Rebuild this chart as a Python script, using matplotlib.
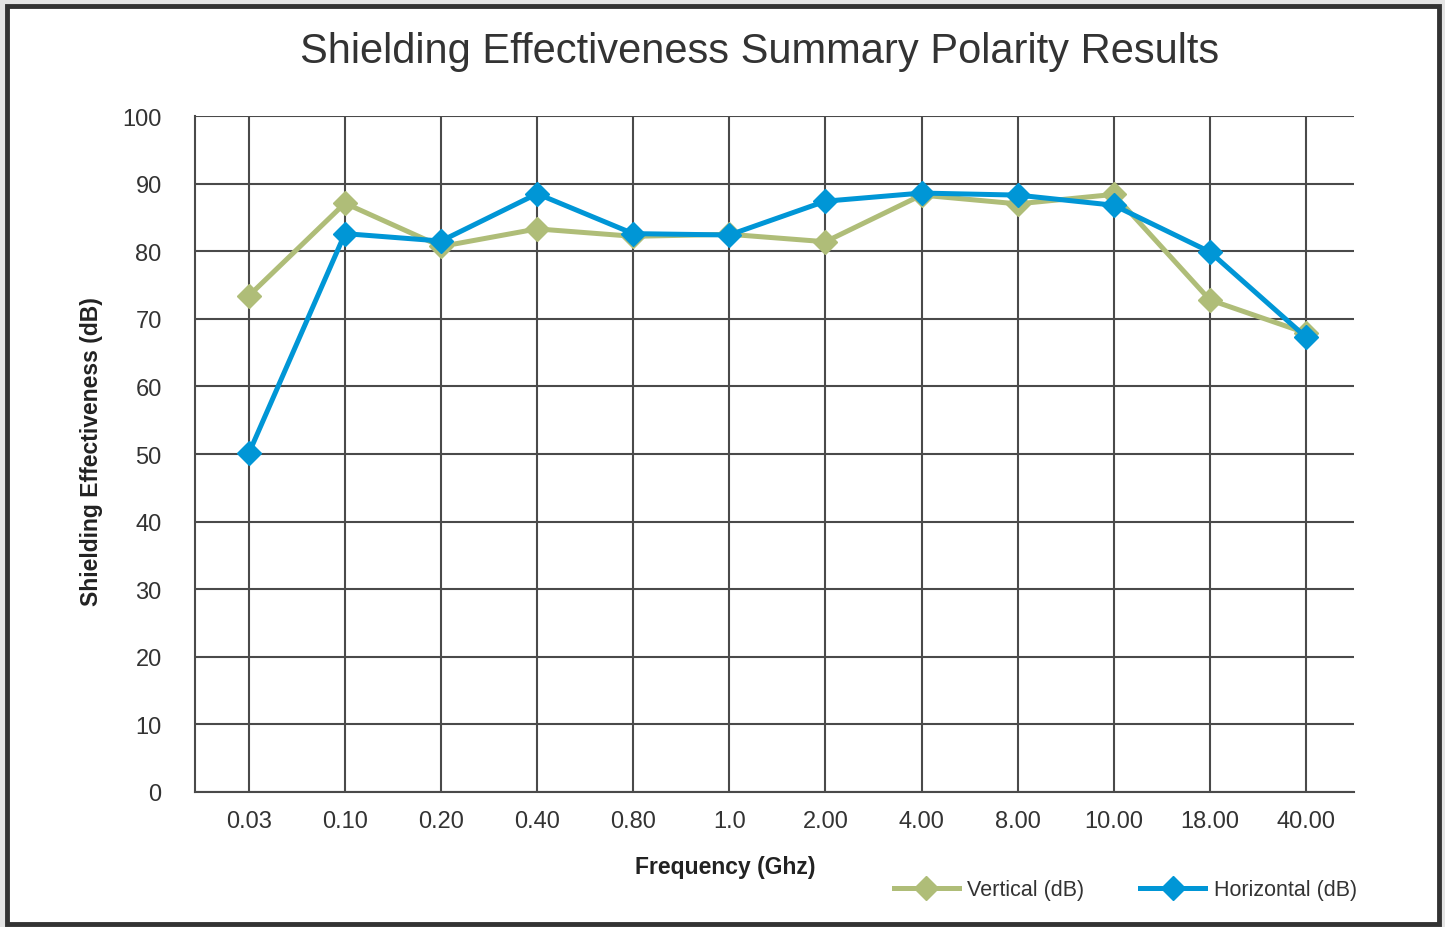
import matplotlib
matplotlib.use('Agg')
import matplotlib.pyplot as plt
from matplotlib import font_manager
from matplotlib.patches import Rectangle

names = {f.name for f in font_manager.fontManager.ttflist}
narrow = 'Liberation Sans Narrow' if 'Liberation Sans Narrow' in names else 'Liberation Sans'

# 数据
freqs = ['0.03', '0.10', '0.20', '0.40', '0.80', '1.0', '2.00', '4.00', '8.00', '10.00', '18.00', '40.00']
vertical = [73.4, 87.1, 80.7, 83.3, 82.2, 82.5, 81.4, 88.3, 87.0, 88.4, 72.8, 67.9]
horizontal = [50.1, 82.6, 81.5, 88.5, 82.6, 82.4, 87.4, 88.6, 88.3, 86.8, 79.9, 67.3]

green = '#AFBD78'
blue = '#0096D6'
grid_c = '#4a4a4a'

fig = plt.figure(figsize=(14.45, 9.28), dpi=100)
fig.patch.set_facecolor('#e4e4e4')
# 外框
fig.patches.append(Rectangle((7 / 1445, 3 / 928), 1432 / 1445, 918 / 928, transform=fig.transFigure,
                             facecolor='white', edgecolor='#333333', linewidth=3.5, zorder=-5))

ax = fig.add_axes([195 / 1445, 1 - 793 / 928, (1354 - 195) / 1445, (793 - 117) / 928])
ax.set_zorder(2)
ax.set_facecolor('none')
x = list(range(len(freqs)))

ax.plot(x, vertical, color=green, linewidth=3.6, marker='D', markersize=12, label='Vertical (dB)', zorder=3)
ax.plot(x, horizontal, color=blue, linewidth=3.6, marker='D', markersize=12, label='Horizontal (dB)', zorder=4)

ax.set_xlim(-0.56, 11.5)
ax.set_ylim(0, 100)
ax.set_yticks(range(0, 101, 10))
ax.set_xticks(x)
ax.set_xticklabels(freqs)
ax.grid(True, color=grid_c, linewidth=1.5)
ax.set_axisbelow(True)
for s in ['top', 'right']:
    ax.spines[s].set_visible(False)
for s in ['left', 'bottom']:
    ax.spines[s].set_color(grid_c)
    ax.spines[s].set_linewidth(1.5)
ax.tick_params(length=0, labelsize=17, labelcolor='#333333')
ax.tick_params(axis='x', pad=13)
ax.tick_params(axis='y', pad=24)
for lab in ax.get_xticklabels() + ax.get_yticklabels():
    lab.set_fontfamily(narrow)

ax.set_ylabel('Shielding Effectiveness (dB)', fontsize=16.5, fontweight='bold', fontfamily=narrow,
              color='#222222')
ax.yaxis.set_label_coords(-104 / 1159, (793 - 452) / 676)
ax.set_xlabel('Frequency (Ghz)', fontsize=16.5, fontweight='bold', fontfamily=narrow,
              color='#222222')
ax.xaxis.set_label_coords((725 - 195) / 1159, -(868 - 793) / 676)
ax.xaxis.label.set_va('center')
ax.yaxis.label.set_va('center')

fig.text(760 / 1445, 1 - 52 / 928, 'Shielding Effectiveness Summary Polarity Results',
         ha='center', va='center', fontsize=30, fontfamily='Liberation Sans', color='#333333')

fig.legend(loc='center right', bbox_to_anchor=(1376 / 1445, 1 - 891 / 928), ncol=2, frameon=False,
           prop={'family': narrow, 'size': 15.5}, handlelength=3.0, columnspacing=2.6, handletextpad=0.4,
           labelcolor='#333333')

plt.savefig('out.png', dpi=100)
